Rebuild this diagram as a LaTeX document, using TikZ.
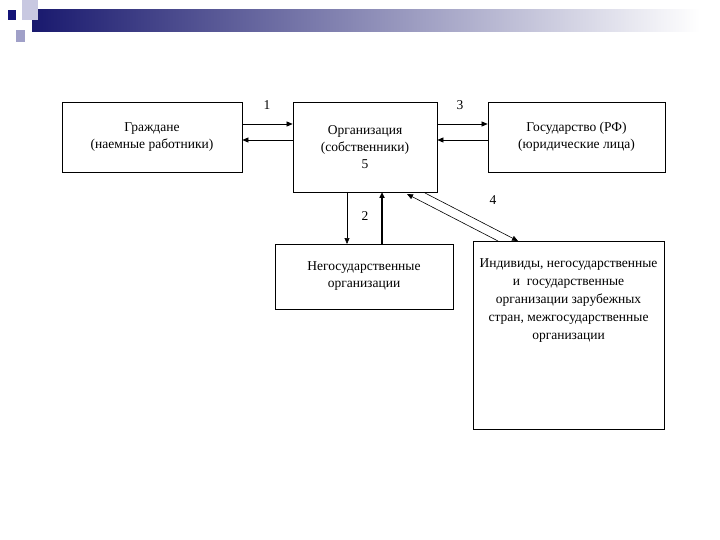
\documentclass[tikz,border=0pt]{standalone}
\usepackage{fontspec}
\setmainfont{Liberation Serif}
\usetikzlibrary{arrows.meta}
\definecolor{navy}{RGB}{25,25,110}
\definecolor{lilac}{RGB}{200,200,225}
\definecolor{dnavy}{RGB}{20,20,120}
\definecolor{mlilac}{RGB}{160,160,200}
\begin{document}
\begin{tikzpicture}[x=1pt,y=-1pt,
  box/.style={draw,thick,inner sep=0pt,align=center,font=\fontsize{13.5}{17}\selectfont},
  lab/.style={font=\fontsize{13.5}{16}\selectfont},
  arr/.style={-{Triangle[length=6pt,width=5pt]},semithick}]
\useasboundingbox[fill=white] (0,0) rectangle (720,540);
% header
\shade[left color=navy,right color=white] (32,10) rectangle (700,32);
\fill[lilac] (22,0) rectangle (38,20);
\fill[dnavy] (8,10) rectangle (16,20);
\fill[mlilac] (16,30) rectangle (25,42);
% boxes
\node[box,minimum width=180pt,minimum height=70pt] (g) at (152,137) {Граждане\\(наемные работники)};
\node[box,minimum width=144pt,minimum height=90pt] (o) at (365,147) {Организация\\(собственники)\\5};
\node[box,minimum width=177pt,minimum height=70pt] (s) at (576.5,137) {Государство (РФ)\\(юридические лица)};
\node[box,minimum width=178pt,minimum height=65pt] (n) at (364,276.5) {Негосударственные\\организации};
\node[box,minimum width=191pt,minimum height=188pt,anchor=north] (i) at (568.5,241) {};
\node[align=center,inner sep=0pt,font=\fontsize{13.5}{18}\selectfont,anchor=north] (it) at (568.5,258) {Индивиды, негосударственные\\и\ \ государственные\\организации зарубежных\\стран, межгосударственные\\организации};
% arrows
\draw[arr] (g.east|-0,124) -- (o.west|-0,124);
\draw[arr] (o.west|-0,140) -- (g.east|-0,140);
\draw[arr] (o.east|-0,124) -- (s.west|-0,124);
\draw[arr] (s.west|-0,140) -- (o.east|-0,140);
\draw[arr] (347,192) -- (347,244);
\draw[arr,line width=1.5pt] (382,244) -- (382,192);
\coordinate (d1) at (498,241); \coordinate (d2) at (407,194);
\coordinate (d3) at (425,193); \coordinate (d4) at (518,241);
\draw[arr] (d1) -- (d2);
\draw[arr] (d3) -- (d4);
% labels
\node[lab] (l1) at (267,105) {1};
\node[lab] (l3) at (460,105) {3};
\node[lab] (l2) at (365,216) {2};
\node[lab] (l4) at (493,200) {4};
\end{tikzpicture}
\end{document}
